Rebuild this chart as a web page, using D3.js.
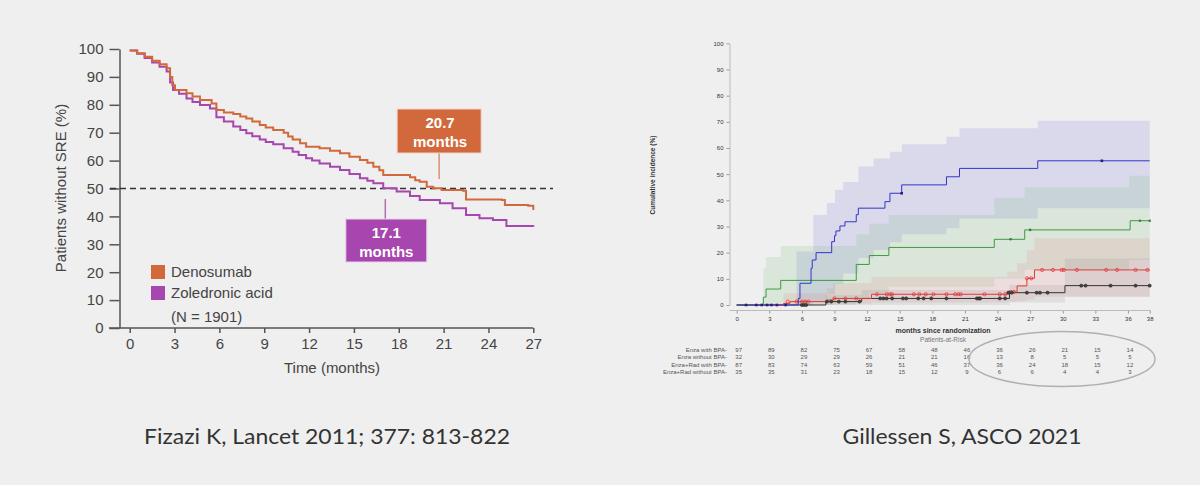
<!DOCTYPE html>
<html><head><meta charset="utf-8">
<script src="https://cdn.jsdelivr.net/npm/d3@7"></script>
<style>
html,body{margin:0;padding:0;background:#efefef;}
svg{display:block;}
</style></head>
<body>
<svg id="c" width="1200" height="485"></svg>
<script>
// ---------- LEFT CHART DATA (Fizazi 2011) ----------
const leftXTicks = [0,3,6,9,12,15,18,21,24,27];
const leftYTicks = [0,10,20,30,40,50,60,70,80,90,100];
const denosumab = [[0,99.5],[0.5,98.5],[1,97.2],[1.5,95.8],[2,94.5],[2.47,93.1],[2.7,90],[2.85,87],[3.03,85.3],[3.8,84.1],[4.2,83],[4.7,81.7],[5.48,80.5],[5.8,78.1],[6.3,77.2],[6.93,76.7],[7.4,75.8],[7.8,75.1],[8.2,74],[8.7,72.8],[9.1,71.9],[9.6,71],[10.3,70],[10.6,68.6],[10.9,67.6],[11.4,66.2],[11.8,65],[12.7,64.4],[13.4,63.5],[14.07,62.6],[14.7,61.4],[15.4,60.2],[15.9,59.2],[16.3,57.8],[16.7,56.5],[16.96,54.8],[18.75,54],[19.1,53],[19.4,52.4],[19.87,50.6],[20.3,50.1],[20.87,49.5],[22.3,49.2],[22.5,46.1],[24.9,45.9],[25.1,44.1],[26.66,43.8],[27,42.3]];
const zoledronic = [[0,99.5],[0.5,98.3],[1,96.8],[1.5,95.2],[2,93.6],[2.47,91.9],[2.7,88],[2.9,85.3],[3.3,84],[3.8,82.3],[4.2,81],[4.7,79.9],[5.37,78.7],[5.8,75.5],[6.3,74],[6.93,72.2],[7.4,71],[7.8,69.8],[8.2,68.7],[8.7,67.6],[9.1,66.7],[9.6,65.9],[10.3,64.4],[10.9,63.2],[11.3,62],[11.8,60.8],[12.2,60],[12.7,59],[13.4,57.8],[14.07,56.6],[14.7,55.2],[15.4,53.7],[15.9,52.8],[16.3,51.9],[16.96,50.1],[17.86,48.9],[18.75,47.3],[19.4,45.9],[20.75,44.7],[21.6,42.9],[22.5,40.5],[23.4,39.3],[24.3,38.7],[25.2,36.6],[27,36.3]];
const leftLegend = ["Denosumab","Zoledronic acid"];
const medians = [20.7, 17.1];
const medianLabels = ["20.7","17.1"];

// ---------- RIGHT CHART DATA (Gillessen 2021) ----------
const rightXTicks = [0,3,6,9,12,15,18,21,24,27,30,33,36,38];
const rightYTicks = [0,10,20,30,40,50,60,70,80,90,100];
const blueLine = [[0,0],[5.67,2.5],[5.82,8.3],[6.84,14],[6.95,17.2],[7.3,20],[8.74,24.2],[9.0,26.5],[9.13,28.3],[9.5,30.2],[9.96,31.8],[11.0,34.5],[11.19,37],[13.64,39.5],[14.1,42.7],[15.18,45.9],[19.3,49],[20.5,52.2],[27.7,55.1],[38,55.1]];
const greenLine = [[0,0],[2.45,3],[2.7,6.1],[4.05,9.4],[11,15.5],[12.2,18.9],[14,22],[23.7,25.1],[26.5,28.7],[36.2,32.2],[38,32.2]];
const redLine = [[0,0],[4.3,0.6],[4.9,1.3],[8.3,1.9],[8.9,2.5],[12.4,4.1],[24.9,5.0],[25.8,7.3],[26.7,10.2],[27.4,13.4],[38,13.4]];
const blackLine = [[0,0],[8.2,1.3],[11.5,2.5],[25.1,4.7],[30.2,7.4],[38,7.4]];
const blueCens = [[0.86,0],[1.8,0],[2.3,0],[2.8,0],[3.2,0],[3.7,0],[4.5,0],[15.18,42.7],[33.6,55.1]];
const greenCens = [[25.2,25.1],[27.0,28.7],[37.1,32.2],[38,32.2]];
const redCens = [[4.7,1.3],[5.5,1.3],[6.0,1.3],[6.3,1.3],[6.6,1.3],[9.0,2.5],[10.0,2.5],[11.0,2.5],[12.9,4.1],[13.8,4.1],[14.1,4.1],[14.3,4.1],[16.3,4.1],[16.8,4.1],[17.4,4.1],[18.1,4.1],[19.3,4.1],[20.1,4.1],[20.4,4.1],[20.6,4.1],[22.8,4.1],[24.2,4.1],[24.7,4.1],[25.2,5.0],[25.5,5.0],[26.7,10.2],[27.1,10.2],[28.1,13.4],[29.1,13.4],[29.9,13.4],[30.1,13.4],[31.3,13.4],[34.0,13.4],[35.0,13.4],[36.7,13.4],[37.8,13.4]];
const blackCens = [[6.0,0],[6.2,0],[6.4,0],[8.3,1.3],[8.7,1.3],[9.4,1.3],[10.0,1.3],[11.3,1.3],[13.2,2.5],[13.5,2.5],[13.8,2.5],[14.3,2.5],[15.3,2.5],[15.6,2.5],[16.7,2.5],[17.2,2.5],[17.9,2.5],[19.3,2.5],[22.1,2.5],[22.3,2.5],[22.4,2.5],[24.2,2.5],[24.7,2.5],[25.0,4.7],[25.3,4.7],[26.7,4.7],[27.6,4.7],[27.9,4.7],[28.6,4.7],[31.7,7.4],[32.1,7.4],[34.4,7.4],[36.7,7.4],[38,7.4]];
// bands: [time, lower, upper]
const blueBand = [[5.5,0,20.4],[7.05,1,34.4],[8.3,4,39],[9.05,8,44],[9.8,12,47],[11.2,18,52.9],[12.6,21,56],[14.1,24,58.6],[15.2,27,61.4],[19.3,29.3,64.3],[20.5,33,67.5],[27.7,37,70.4],[38,37,70.4]];
const greenBand = [[2.45,0,14],[2.7,0,18.3],[4.05,0,22.5],[11,2,27],[12.2,4.5,31],[14,7,34.4],[23.7,10,41],[26.5,13.4,45],[36.1,17.2,49.4],[38,17.2,49.4]];
const redBand = [[4.3,0,4.5],[8.3,0,6.4],[8.9,0.5,8.3],[12.4,1,10.8],[24.9,1.2,12.7],[25.8,1.5,16],[26.7,2,21],[27.4,3.2,25.5],[38,3.2,25.5]];
const blackBand = [[8.2,0,3.8],[11.5,0,5.7],[25.1,1,7.6],[30.2,3.2,17.8],[38,3.2,17.8]];
const riskRows = ["Enza with BPA-","Enza without BPA-","Enza+Rad with BPA-","Enza+Rad without BPA-"];
const riskTimes = [0,3,6,9,12,15,18,21,24,27,30,33,36];
const riskEnzaBPA = [97,89,82,75,67,58,48,46,36,26,21,15,14];
const riskEnzaNoBPA = [32,30,29,29,26,21,21,16,13,8,5,5,5];
const riskRadBPA = [87,83,74,63,59,51,46,37,36,24,18,15,12];
const riskRadNoBPA = [35,35,31,23,18,15,12,9,6,6,4,4,3];
const captions = ["Fizazi K, Lancet 2011; 377: 813-822","Gillessen S, ASCO 2021"];

const svg = d3.select("#c");
svg.append("rect").attr("width",1200).attr("height",485).attr("fill","#efefef");

// ================= LEFT =================
const ORANGE = "#d2693c", PURPLE = "#a646ae";
const xL = d3.scaleLinear().domain([0,27]).range([129.7,533.3]);
const yL = d3.scaleLinear().domain([0,100]).range([328,49]);
const gL = svg.append("g").attr("font-family","'Liberation Sans', Arial, sans-serif");

const ax = gL.append("g").attr("transform","translate(119.5,0)")
  .call(d3.axisLeft(yL).tickValues(leftYTicks).tickSize(10).tickSizeOuter(0).tickPadding(6));
ax.select(".domain").attr("stroke","#555").attr("stroke-width",1.5);
ax.selectAll(".tick line").attr("stroke","#555").attr("stroke-width",1.5);
ax.selectAll("text").attr("font-size",15).attr("fill","#444");

const axb = gL.append("g").attr("transform","translate(0,328)")
  .call(d3.axisBottom(xL).tickValues(leftXTicks).tickSize(5).tickSizeOuter(0).tickPadding(5));
axb.select(".domain").remove();
axb.append("line").attr("x1",109).attr("x2",xL(27)).attr("y1",0).attr("y2",0).attr("stroke","#555").attr("stroke-width",1.5);
axb.selectAll(".tick line").attr("stroke","#555").attr("stroke-width",1.5);
axb.selectAll("text").attr("font-size",15).attr("fill","#444");

gL.append("text").attr("x",332).attr("y",373).attr("text-anchor","middle").attr("font-size",15).attr("fill","#444").text("Time (months)");
gL.append("text").attr("transform","translate(66,188) rotate(-90)").attr("text-anchor","middle").attr("font-size",15).attr("fill","#444").text("Patients without SRE (%)");

// dashed 50% line
gL.append("line").attr("x1",110).attr("x2",553).attr("y1",yL(50)).attr("y2",yL(50))
  .attr("stroke","#333").attr("stroke-width",1.5).attr("stroke-dasharray","6,4");

const lineL = d3.line().x(d=>xL(d[0])).y(d=>yL(d[1])).curve(d3.curveStepAfter);
gL.append("path").datum(zoledronic).attr("d",lineL).attr("fill","none").attr("stroke",PURPLE).attr("stroke-width",2);
gL.append("path").datum(denosumab).attr("d",lineL).attr("fill","none").attr("stroke",ORANGE).attr("stroke-width",2);

// median boxes
// orange (above)
gL.append("line").attr("x1",xL(medians[0])).attr("x2",xL(medians[0])).attr("y1",153).attr("y2",179).attr("stroke","#d99070").attr("stroke-width",1.5);
gL.append("rect").attr("x",xL(medians[0])-42).attr("y",109).attr("width",84).attr("height",44).attr("fill",ORANGE).attr("stroke","#f3d3c3").attr("stroke-width",1);
gL.append("text").attr("x",xL(medians[0])+1).attr("y",128).attr("text-anchor","middle").attr("font-size",15).attr("font-weight","bold").attr("fill","#fff").text(medianLabels[0]);
gL.append("text").attr("x",xL(medians[0])+1).attr("y",147).attr("text-anchor","middle").attr("font-size",15).attr("font-weight","bold").attr("fill","#fff").text("months");
// purple (below)
gL.append("line").attr("x1",xL(medians[1])).attr("x2",xL(medians[1])).attr("y1",199).attr("y2",219).attr("stroke","#b070b0").attr("stroke-width",1.5);
gL.append("rect").attr("x",xL(medians[1])-39.5).attr("y",219).attr("width",81).attr("height",43).attr("fill",PURPLE).attr("stroke","#ead3ec").attr("stroke-width",1);
gL.append("text").attr("x",xL(medians[1])+1).attr("y",238).attr("text-anchor","middle").attr("font-size",15).attr("font-weight","bold").attr("fill","#fff").text(medianLabels[1]);
gL.append("text").attr("x",xL(medians[1])+1).attr("y",257).attr("text-anchor","middle").attr("font-size",15).attr("font-weight","bold").attr("fill","#fff").text("months");

// legend
const legCols = [ORANGE, PURPLE];
leftLegend.forEach((t,i)=>{
  gL.append("rect").attr("x",151).attr("y",265+i*21).attr("width",14).attr("height",14).attr("fill",legCols[i]);
  gL.append("text").attr("x",171).attr("y",277+i*21).attr("font-size",15).attr("fill","#444").text(t);
});
gL.append("text").attr("x",171).attr("y",322).attr("font-size",15).attr("fill","#444").text("(N = 1901)");

// ================= RIGHT =================
const xR = d3.scaleLinear().domain([0,38]).range([736.7,1149.7]);
const yR = d3.scaleLinear().domain([0,100]).range([305,43.3]);
const gR = svg.append("g").attr("font-family","'Liberation Sans', Arial, sans-serif");

const ayR = gR.append("g").attr("transform","translate(729.5,0)")
  .call(d3.axisLeft(yR).tickValues(rightYTicks).tickSize(3).tickSizeOuter(0).tickPadding(3));
ayR.select(".domain").attr("stroke","#bbb");
ayR.selectAll(".tick line").attr("stroke","#999");
ayR.selectAll("text").attr("font-size",6).attr("fill","#333");

const axR = gR.append("g").attr("transform","translate(0,310.5)")
  .call(d3.axisBottom(xR).tickValues(rightXTicks).tickSize(3).tickSizeOuter(0).tickPadding(3));
axR.select(".domain").remove();
axR.append("line").attr("x1",729.5).attr("x2",xR(38)+1).attr("y1",0).attr("y2",0).attr("stroke","#bbb");
axR.selectAll(".tick line").attr("stroke","#999");
axR.selectAll("text").attr("font-size",6).attr("fill","#333");

gR.append("text").attr("transform","translate(655,175) rotate(-90)").attr("text-anchor","middle").attr("font-size",6.5).attr("font-weight","bold").attr("fill","#333").text("Cumulative incidence (%)");

const area = d3.area().x(d=>xR(d[0])).y0(d=>yR(d[1])).y1(d=>yR(d[2])).curve(d3.curveStepAfter);
const bands = [[blueBand,"rgba(110,110,220,0.17)"],[greenBand,"rgba(110,180,110,0.15)"],[redBand,"rgba(225,110,110,0.14)"],[blackBand,"rgba(90,90,90,0.10)"]];
bands.forEach(b=>gR.append("path").datum(b[0]).attr("d",area).attr("fill",b[1]));

const lineR = d3.line().x(d=>xR(d[0])).y(d=>yR(d[1])).curve(d3.curveStepAfter);
const series = [[blackLine,"#333"],[redLine,"#e23a3a"],[greenLine,"#3f9a3f"],[blueLine,"#3434c8"]];
series.forEach(s=>gR.append("path").datum(s[0]).attr("d",lineR).attr("fill","none").attr("stroke",s[1]).attr("stroke-width",1));

gR.selectAll(".rc").data(redCens).enter().append("circle").attr("cx",d=>xR(d[0])).attr("cy",d=>yR(d[1])).attr("r",1.6).attr("fill","none").attr("stroke","#e23a3a").attr("stroke-width",0.8);
gR.selectAll(".kc").data(blackCens).enter().append("circle").attr("cx",d=>xR(d[0])).attr("cy",d=>yR(d[1])).attr("r",1.6).attr("fill","#444").attr("stroke","#222").attr("stroke-width",0.5);
gR.selectAll(".gc").data(greenCens).enter().append("circle").attr("cx",d=>xR(d[0])).attr("cy",d=>yR(d[1])).attr("r",1.3).attr("fill","#3f7a3f");
gR.selectAll(".bc").data(blueCens).enter().append("rect").attr("x",d=>xR(d[0])-1.3).attr("y",d=>yR(d[1])-1.3).attr("width",2.6).attr("height",2.6).attr("fill","#22227a");

gR.append("text").attr("x",943).attr("y",333).attr("text-anchor","middle").attr("font-size",7).attr("font-weight","bold").attr("fill","#333").text("months since randomization");
gR.append("text").attr("x",943).attr("y",342).attr("text-anchor","middle").attr("font-size",6.5).attr("fill","#777").text("Patients-at-Risk");

const riskData = [riskEnzaBPA, riskEnzaNoBPA, riskRadBPA, riskRadNoBPA];
riskRows.forEach((r,i)=>{
  const yy = 351.5 + i*7.6;
  gR.append("text").attr("x",727).attr("y",yy).attr("text-anchor","end").attr("font-size",6).attr("fill","#555").text(r);
  riskData[i].forEach((v,j)=>{
    gR.append("text").attr("x",xR(riskTimes[j])+2).attr("y",yy).attr("text-anchor","middle").attr("font-size",6).attr("fill","#555").text(v);
  });
});
gR.append("ellipse").attr("cx",1062).attr("cy",359).attr("rx",93).attr("ry",27.5).attr("fill","none").attr("stroke","#b0b0b0").attr("stroke-width",1.5);

// captions
svg.append("text").attr("x",327).attr("y",444).attr("text-anchor","middle").attr("font-family","Lato, 'Open Sans', sans-serif").attr("font-size",22).attr("fill","#333").attr("textLength",366).attr("lengthAdjust","spacingAndGlyphs").text(captions[0]);
svg.append("text").attr("x",962).attr("y",444).attr("text-anchor","middle").attr("font-family","Lato, 'Open Sans', sans-serif").attr("font-size",22).attr("fill","#333").attr("textLength",239).attr("lengthAdjust","spacingAndGlyphs").text(captions[1]);
</script>
</body></html>
